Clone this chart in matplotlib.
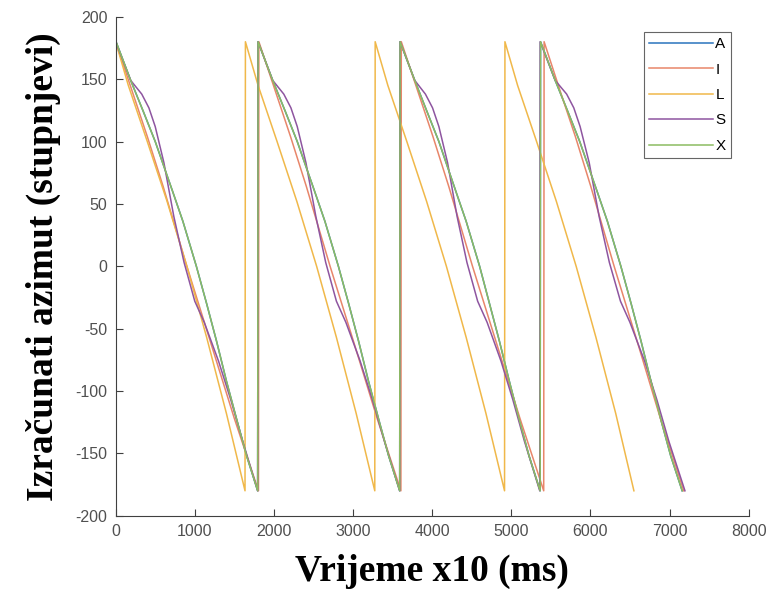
import matplotlib
matplotlib.use('Agg')
import matplotlib.pyplot as plt

plt.rcParams['axes.unicode_minus'] = False

# time axis (x10 ms) and azimuth (deg) per series
x_X = [0, 5, 190, 350, 500, 720, 850, 1020, 1150, 1275, 1400, 1535, 1655, 1795,
       1800, 1985, 2145, 2295, 2515, 2645, 2815, 2945, 3070, 3195, 3330, 3450, 3590,
       3595, 3780, 3935, 4085, 4300, 4430, 4600, 4725, 4850, 4975, 5105, 5225, 5365,
       5370, 5555, 5715, 5865, 6085, 6215, 6385, 6515, 6640, 6765, 6895, 7015, 7160]
y_X = [-180, 180, 149, 124, 100, 60, 36, 0, -30, -60, -92, -124, -152, -180,
       180, 149, 124, 100, 60, 36, 0, -30, -60, -92, -124, -152, -180,
       180, 149, 124, 100, 60, 36, 0, -30, -60, -92, -124, -152, -180,
       180, 149, 124, 100, 60, 36, 0, -30, -60, -92, -124, -152, -180]

# A sits underneath X almost everywhere
x_A = x_X
y_A = [150, 180, 149, 124, 100, 60, 36, 0, -30, -60, -92, -124, -152, -180,
       180, 149, 124, 100, 60, 36, 0, -30, -60, -92, -124, -152, -180,
       180, 149, 124, 100, 60, 36, 0, -30, -60, -92, -124, -152, -180,
       180, 149, 124, 100, 60, 36, 0, -30, -60, -92, -124, -152, -180]

x_S = [0, 190, 330, 420, 500, 610, 735, 865, 1000, 1120, 1300, 1455, 1605, 1795,
       1800, 1985, 2125, 2215, 2295, 2405, 2530, 2655, 2790, 2910, 3090, 3245, 3395, 3590,
       3595, 3780, 3915, 4005, 4085, 4195, 4315, 4440, 4575, 4695, 4870, 5020, 5165, 5360,
       5365, 5555, 5700, 5790, 5870, 5985, 6110, 6240, 6380, 6500, 6685, 6840, 6990, 7195]
y_S = [180, 149, 138, 127, 112, 83, 40, 3, -28, -45, -76, -107, -140, -180,
       180, 149, 138, 127, 112, 83, 40, 3, -28, -45, -76, -107, -140, -180,
       180, 149, 138, 127, 112, 83, 40, 3, -28, -45, -76, -107, -140, -180,
       180, 149, 138, 127, 112, 83, 40, 3, -28, -45, -76, -107, -140, -180]

x_I = [0, 200, 400, 600, 900, 1200, 1500, 1805,
       1810, 2010, 2210, 2410, 2710, 3010, 3305, 3605,
       3610, 3810, 4010, 4210, 4510, 4810, 5110, 5410,
       5415, 5610, 5810, 6005, 6300, 6595, 6885, 7180]
y_I = [180, 142, 104, 64, 0, -61, -122, -180,
       180, 142, 104, 64, 0, -61, -122, -180,
       180, 142, 104, 64, 0, -61, -122, -180,
       180, 142, 104, 64, 0, -61, -122, -180]

x_L = [0, 160, 400, 650, 900, 1150, 1400, 1635,
       1640, 1800, 2040, 2290, 2540, 2790, 3040, 3275,
       3280, 3440, 3680, 3930, 4180, 4430, 4680, 4915,
       4920, 5080, 5320, 5570, 5820, 6070, 6320, 6550]
y_L = [180, 145, 100, 52, 0, -57, -118, -180,
       180, 145, 100, 52, 0, -57, -118, -180,
       180, 145, 100, 52, 0, -57, -118, -180,
       180, 145, 100, 52, 0, -57, -118, -180]

labels = ['A', 'I', 'L', 'S', 'X']
colors = ['#2a74bd', '#e8866a', '#f0b84a', '#8e55a0', '#8cbc62']

fig = plt.figure(figsize=(7.71, 5.99), dpi=100)
ax = fig.add_axes([0.150, 0.139, 0.821, 0.833])

series = [(x_A, y_A), (x_I, y_I), (x_L, y_L), (x_S, y_S), (x_X, y_X)]
for (xs, ys), lab, c in zip(series, labels, colors):
    ax.plot(xs, ys, color=c, lw=1.1, label=lab)

ax.set_xlim(0, 8000)
ax.set_ylim(-200, 200)
ax.set_xticks(range(0, 8001, 1000))
ax.set_yticks(range(-200, 201, 50))

for s in ['top', 'right']:
    ax.spines[s].set_visible(False)
for s in ['left', 'bottom']:
    ax.spines[s].set_color('#404040')
    ax.spines[s].set_linewidth(0.8)
ax.tick_params(direction='in', length=5, width=0.8, color='#404040',
               labelcolor='#505050', labelsize=11.5, pad=6)
for t in ax.get_xticklabels() + ax.get_yticklabels():
    t.set_family('Liberation Sans')

ax.set_xlabel('Vrijeme x10 (ms)', family='Liberation Serif', weight='bold',
              fontsize=27, labelpad=11)
ax.set_ylabel('Izračunati azimut (stupnjevi)', family='Liberation Serif', weight='bold',
              fontsize=27, labelpad=10)

leg = ax.legend(loc='upper right', bbox_to_anchor=(0.972, 0.970), fancybox=False,
                handlelength=4.2, handletextpad=0.15, labelspacing=0.75,
                borderpad=0.35, borderaxespad=0.0,
                prop={'family': 'Liberation Sans', 'size': 11})
leg.get_frame().set_edgecolor('#404040')
leg.get_frame().set_linewidth(0.8)

plt.savefig('out.png', dpi=100)
